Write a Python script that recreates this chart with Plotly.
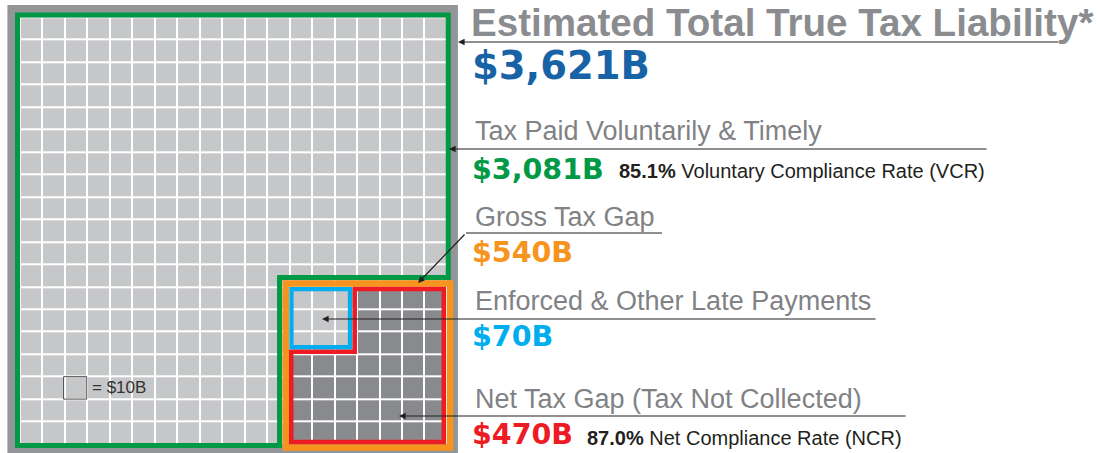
import math
import numpy as np
import plotly.graph_objects as go

# ---------------- data ----------------
categories = ["Estimated Total True Tax Liability*",
              "Tax Paid Voluntarily & Timely",
              "Gross Tax Gap",
              "Enforced & Other Late Payments",
              "Net Tax Gap (Tax Not Collected)"]
values_b = [3621, 3081, 540, 70, 470]
value_labels = ["$3,621B", "$3,081B", "$540B", "$70B", "$470B"]
rate_values = [None, "85.1%", None, None, "87.0%"]
rate_names = [None, "Voluntary Compliance Rate (VCR)", None, None, "Net Compliance Rate (NCR)"]
cell_value_b = 10
legend_label = "= $10B"

# ---------------- styling ----------------
W, H = 1097, 453
C_LIGHT = "#c6c7c9"
C_DARK = "#898a8d"
C_FRAME = "#939598"
C_GREEN = "#009a46"
C_ORANGE = "#f7941e"
C_RED = "#ed1c24"
C_BLUE_BOX = "#00aeef"
C_TITLE = "#8a8c8f"
C_LABEL = "#808285"
C_TOTAL = "#1763a6"
C_TEXT = "#231f20"
value_colors = [C_TOTAL, C_GREEN, C_ORANGE, C_BLUE_BOX, C_RED]

total, paid, gross, late, net = values_b
S = math.sqrt(total / cell_value_b)      # side of whole square (cells)
G = math.sqrt(gross / cell_value_b)      # side of gross-gap square
L = math.sqrt(late / cell_value_b)       # side of late-payment square
n = int(round(S))
g = int(round(G))
l = int(round(L))

# cell grid: 0 = paid / collected (light), 1 = not collected (dark)
z = np.zeros((n, n))
z[n - g:, n - g:] = 1
z[n - g:n - g + l, n - g:n - g + l] = 0

fig = go.Figure()
fig.add_trace(go.Heatmap(
    z=z, x=np.arange(n) + 0.5, y=np.arange(n) + 0.5,
    colorscale=[[0, C_LIGHT], [1, C_DARK]], zmin=0, zmax=1,
    showscale=False, xgap=2, ygap=2, hoverinfo="skip"))

shapes = []
# frame and white grid background
shapes.append(dict(type="rect", xref="x", yref="y", x0=-0.56, x1=S + 0.46,
                   y0=-0.6, y1=S + 0.5, fillcolor=C_FRAME, line_width=0, layer="below"))
shapes.append(dict(type="rect", xref="x", yref="y", x0=0, x1=n, y0=0, y1=n,
                   fillcolor="white", line_width=0, layer="below"))

# green outline: paid region
gL, gT, gR, gB = -0.11, -0.1, S + 0.03, S + 0.04
gsx, gsy = S - G - 0.13, S - G - 0.1
shapes.append(dict(type="path", xref="x", yref="y",
                   path=f"M{gL},{gT} L{gR},{gT} L{gR},{gsy} L{gsx},{gsy} L{gsx},{gB} L{gL},{gB} Z",
                   line=dict(color=C_GREEN, width=5)))
# orange outline: gross gap
shapes.append(dict(type="rect", xref="x", yref="y", x0=S - G + 0.15, x1=S + 0.11,
                   y0=S - G + 0.17, y1=S + 0.12, line=dict(color=C_ORANGE, width=6.5)))
# red outline: net gap
rx0, rx1, ry0, ry1 = S - G + 0.39, S - 0.17, S - G + 0.42, S - 0.12
rsx, rsy = rx0 + L + 0.18, ry0 + L + 0.15
shapes.append(dict(type="path", xref="x", yref="y",
                   path=f"M{rsx},{ry0} L{rx1},{ry0} L{rx1},{ry1} L{rx0},{ry1} L{rx0},{rsy} L{rsx},{rsy} Z",
                   line=dict(color=C_RED, width=4.5)))
# blue outline: late payments
bx0, by0 = rx0 + 0.01, ry0
shapes.append(dict(type="rect", xref="x", yref="y", x0=bx0, x1=bx0 + L - 0.04,
                   y0=by0, y1=by0 + L - 0.06, line=dict(color=C_BLUE_BOX, width=4.3)))
# legend cell
shapes.append(dict(type="rect", xref="x", yref="y", x0=1.94, x1=2.97, y0=16.0, y1=17.0,
                   line=dict(color="#4d4d4f", width=1)))


def P(px, py):
    return px / W, 1 - py / H


annotations = []


def text(px, py, s, size, color, family="Liberation Sans", bold=False):
    x, y = P(px, py)
    annotations.append(dict(xref="paper", yref="paper", x=x, y=y, xanchor="left",
                            yanchor="middle", showarrow=False,
                            text=f"<b>{s}</b>" if bold else s,
                            font=dict(size=size, color=color, family=family)))


def arrow(tail, tip):
    x, y = P(*tip)
    annotations.append(dict(xref="paper", yref="paper", x=x, y=y, text="",
                            showarrow=True, ax=tail[0] - tip[0], ay=tail[1] - tip[1],
                            arrowhead=2, arrowsize=1.1, arrowwidth=1.2,
                            arrowcolor=C_TEXT, standoff=0, startstandoff=0))


label_y = [22, 131, 217, 301, 399]
value_y = [66, 169, 253, 336, 434]
value_size = [38.5, 28.5, 28.5, 28.5, 28.5]
label_size = [38.6, 27, 27, 27, 27]
for i in range(5):
    if i == 0:
        text(469, label_y[i], categories[i], label_size[i], C_TITLE, bold=True)
    else:
        text(473, label_y[i], categories[i], label_size[i], C_LABEL)
    text(470, value_y[i], value_labels[i], value_size[i], value_colors[i],
         family="DejaVu Sans", bold=True)

text(617, 171, f"<b>{rate_values[1]}</b> {rate_names[1]}", 20, C_TEXT)
text(585, 438, f"<b>{rate_values[4]}</b> {rate_names[4]}", 20, C_TEXT)

# legend text
annotations.append(dict(xref="x", yref="y", x=3.12, y=16.5, xanchor="left", yanchor="middle",
                        showarrow=False, text=legend_label,
                        font=dict(size=17, color="#333333", family="Liberation Sans")))

# leader lines
arrow((1060, 42), (458, 42))
arrow((988, 149), (449, 149))
shapes.append(dict(type="line", xref="paper", yref="paper",
                   x0=466 / W, x1=662 / W, y0=1 - 233 / H, y1=1 - 233 / H,
                   line=dict(color=C_TEXT, width=1.2)))
arrow((466, 233), (418, 283))
arrow((877, 319), (322, 319))
arrow((907, 416), (399, 416))

x0p = 20 - 0.6 * 22.47
x1p = 20 + 19.6 * 22.47
fig.update_layout(
    width=W, height=H, margin=dict(l=0, r=0, t=0, b=0),
    paper_bgcolor="white", plot_bgcolor="white",
    xaxis=dict(range=[-0.6, 19.6], domain=[x0p / W, x1p / W], visible=False, fixedrange=True),
    yaxis=dict(range=[19.399, -0.55], domain=[0, 1 - 4.95 / H], visible=False, fixedrange=True),
    shapes=shapes, annotations=annotations, showlegend=False,
)
fig.write_html("out.html", config={"displayModeBar": False},
               post_script="document.body.style.margin='0px';document.body.style.overflow='hidden';")
